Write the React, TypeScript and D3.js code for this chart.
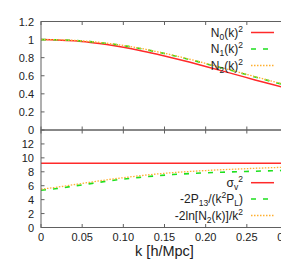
import * as d3 from 'd3';
import React from 'react';

// k grid [h/Mpc]
const kValues = [0, 0.02, 0.04, 0.06, 0.08, 0.1, 0.12, 0.14, 0.16, 0.18, 0.2, 0.22, 0.24, 0.26, 0.28, 0.3];

// top panel
const n0Sq = [1.0, 0.996, 0.986, 0.968, 0.945, 0.915, 0.88, 0.84, 0.797, 0.751, 0.703, 0.654, 0.604, 0.554, 0.505, 0.457];
const n1Sq = [1.0, 0.998, 0.99, 0.977, 0.958, 0.933, 0.902, 0.865, 0.825, 0.781, 0.734, 0.686, 0.637, 0.586, 0.537, 0.489];
const n2Sq = [1.0, 0.998, 0.991, 0.978, 0.96, 0.935, 0.905, 0.868, 0.828, 0.784, 0.737, 0.689, 0.64, 0.59, 0.541, 0.493];

// bottom panel
const sigmaV2 = [9.22, 9.22, 9.22, 9.22, 9.22, 9.22, 9.22, 9.22, 9.22, 9.22, 9.22, 9.22, 9.22, 9.22, 9.22, 9.22];
const p13Ratio = [5.35, 5.6, 5.95, 6.3, 6.65, 6.95, 7.2, 7.42, 7.6, 7.74, 7.85, 7.94, 8.01, 8.08, 8.14, 8.2];
const lnN2Ratio = [5.5, 5.8, 6.15, 6.5, 6.85, 7.15, 7.43, 7.68, 7.88, 8.04, 8.18, 8.3, 8.4, 8.5, 8.59, 8.68];

const xTicks = [0, 0.05, 0.1, 0.15, 0.2, 0.25, 0.3];
const xTickLabels = ['0', '0.05', '0.10', '0.15', '0.20', '0.25', '0.30'];
const topTicks = [0, 0.2, 0.4, 0.6, 0.8, 1, 1.2];
const bottomTicks = [0, 2, 4, 6, 8, 10, 12];

const RED = '#ff2a2a';
const GREEN = '#1ee01e';
const ORANGE = '#ffb030';

const font = '"Liberation Sans", Arial, sans-serif';

export default function App() {
    const W = 281, H = 264;
    const left = 41, right = 288;

    const x = d3.scaleLinear().domain([0, 0.3]).range([left, right]);
    const yTop = d3.scaleLinear().domain([0, 1.2]).range([130, 21.5]);
    const yBot = d3.scaleLinear().domain([0, 14]).range([227.5, 130]);

    const mk = (y, vals) =>
        d3.line().x((_, i) => x(kValues[i])).y(d => y(d)).curve(d3.curveMonotoneX)(vals);

    const styles = [
        { stroke: RED, dash: null, w: 1.5 },
        { stroke: GREEN, dash: '5,7', w: 1.6 },
        { stroke: ORANGE, dash: '1.5,1.5', w: 1.3 },
    ];

    const topSeries = [n0Sq, n1Sq, n2Sq];
    const botSeries = [sigmaV2, p13Ratio, lnN2Ratio];

    const sub = { fontSize: 8.5 };

    const topLabels = [
        <>N<tspan dy={3} style={sub}>0</tspan><tspan dy={-3}>(k)</tspan><tspan dy={-5} style={sub}>2</tspan></>,
        <>N<tspan dy={3} style={sub}>1</tspan><tspan dy={-3}>(k)</tspan><tspan dy={-5} style={sub}>2</tspan></>,
        <>N<tspan dy={3} style={sub}>2</tspan><tspan dy={-3}>(k)</tspan><tspan dy={-5} style={sub}>2</tspan></>,
    ];
    const botLabels = [
        <>σ<tspan dy={3} style={sub}>v</tspan><tspan dy={-8} style={sub}>2</tspan></>,
        <>-2P<tspan dy={3} style={sub}>13</tspan><tspan dy={-3}>/(k</tspan><tspan dy={-5} style={sub}>2</tspan><tspan dy={5}>P</tspan><tspan dy={3} style={sub}>L</tspan><tspan dy={-3}>)</tspan></>,
        <>-2ln[N<tspan dy={3} style={sub}>2</tspan><tspan dy={-3}>(k)]/k</tspan><tspan dy={-5} style={sub}>2</tspan></>,
    ];
    const topRows = [32.5, 49, 65.5];
    const botRows = [182.7, 199, 215.5];

    const axisColor = '#606060';

    const panel = (y, ticks, fmt, series, labels, rows, y0, y1, id) => (
        <g>
            <defs>
                <clipPath id={id}>
                    <rect x={left} y={y1} width={right - left} height={y0 - y1} />
                </clipPath>
            </defs>
            {ticks.map(t => (
                <g key={'y' + t}>
                    <line x1={left} x2={left + 3.5} y1={y(t)} y2={y(t)} stroke={axisColor} />
                    <text x={34} y={y(t) + 4} textAnchor="end" fontSize={11} fill="#222">{fmt(t)}</text>
                </g>
            ))}
            {xTicks.map(t => (
                <g key={'x' + t}>
                    <line x1={x(t)} x2={x(t)} y1={y0} y2={y0 - 3.5} stroke={axisColor} />
                    <line x1={x(t)} x2={x(t)} y1={y1} y2={y1 + 3.5} stroke={axisColor} />
                </g>
            ))}
            <g clipPath={`url(#${id})`}>
                {series.map((s, i) => (
                    <path key={i} d={mk(y, s)} fill="none" stroke={styles[i].stroke}
                        strokeWidth={styles[i].w} strokeDasharray={styles[i].dash} />
                ))}
            </g>
            {labels.map((lab, i) => (
                <g key={'l' + i}>
                    <text x={243} y={rows[i] + 4} textAnchor="end" fontSize={12} fill="#222">{lab}</text>
                    <line x1={251} x2={274} y1={rows[i]} y2={rows[i]} stroke={styles[i].stroke}
                        strokeWidth={styles[i].w} strokeDasharray={styles[i].dash} />
                </g>
            ))}
            <rect x={left} y={y1} width={right - left} height={y0 - y1} fill="none" stroke={axisColor} />
        </g>
    );

    return (
        <svg width={W} height={H} style={{ position: 'absolute', left: 0, top: 0, background: '#fff' }}
            fontFamily={font}>
            {panel(yTop, topTicks, d => (d === 0 || d === 1 ? String(d) : d.toFixed(1)), topSeries, topLabels, topRows, 130, 21.5, 'clipTop')}
            {panel(yBot, bottomTicks, d => String(d), botSeries, botLabels, botRows, 227.5, 130, 'clipBot')}
            {xTicks.map((t, i) => (
                <text key={t} x={x(t)} y={241} textAnchor="middle" fontSize={11} fill="#222">{xTickLabels[i]}</text>
            ))}
            <text x={(left + right) / 2} y={256} textAnchor="middle" fontSize={14.5} fill="#222">k [h/Mpc]</text>
        </svg>
    );
}
